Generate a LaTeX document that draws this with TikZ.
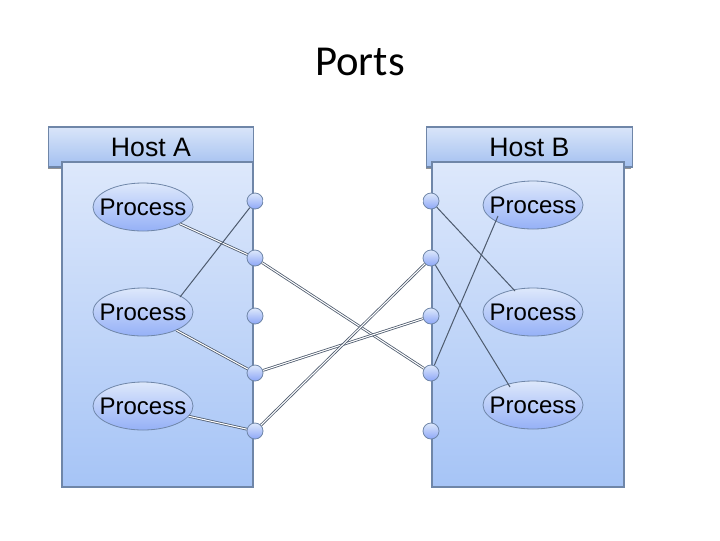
\documentclass[tikz,border=0pt]{standalone}
\usepackage{fontspec}
\setmainfont{Liberation Sans}
\newfontfamily\titlefont{Carlito}
\usetikzlibrary{calc}
\usetikzlibrary{shapes.geometric}
\usetikzlibrary{shadows}

\definecolor{hostline}{HTML}{6F86A8}
\definecolor{hosttop}{HTML}{DDE8FB}
\definecolor{hostbot}{HTML}{A6C4F6}
\definecolor{headtop}{HTML}{D9E5F9}
\definecolor{headbot}{HTML}{A3C0F0}
\definecolor{linkcol}{HTML}{4E5B6E}

\tikzset{
hostbody/.style={draw=hostline,line width=0.8pt,top color=hosttop,bottom color=hostbot},
hosthead/.style={draw=hostline,line width=0.8pt,top color=headtop,bottom color=headbot,
  minimum width=154pt,minimum height=30pt,inner sep=0pt,
  font=\fontsize{20}{24}\selectfont,
  drop shadow={shadow xshift=-0.6pt,shadow yshift=-1.2pt,fill=black!60,opacity=0.7}},
proc/.style={ellipse,draw=hostline,line width=0.6pt,top color=hosttop,bottom color=hostbot!90!blue,
  minimum width=75pt,minimum height=36pt,inner xsep=-6pt,inner ysep=0pt,
  font=\fontsize{18}{22}\selectfont},
port/.style={circle,draw=hostline,line width=0.6pt,top color=hosttop,bottom color=hostbot!85!blue,
  minimum size=12pt,inner sep=0pt},
link/.style={draw=linkcol,line width=0.6pt,double=white,double distance=0.8pt},
wire/.style={draw=linkcol,line width=0.75pt}
}

\begin{document}
\begin{tikzpicture}[x=0.75pt,y=-0.75pt]
\useasboundingbox[fill=white](0,0)rectangle(720,540);
\node[font=\titlefont\fontsize{32}{38}\selectfont](title)at(360,62){Ports};

% hosts
\node[hosthead](HA)at(151,147){Host A};
\filldraw[hostbody](62,162)rectangle(253,487);
\node[hosthead](HB)at(529.5,147){Host B};
\filldraw[hostbody](432,162)rectangle(624,487);

% ports
\foreach \i/\y in {1/201,2/258,3/316,4/373,5/431}{
\node[port](A\i)at(255,\y){};
\node[port](B\i)at(431,\y){};
}

% processes
\node[proc](PA1)at(143,207){Process};
\node[proc](PA2)at(143,312){Process};
\node[proc](PA3)at(143,406){Process};
\node[proc](PB1)at(533,205){Process};
\node[proc](PB2)at(533,312){Process};
\node[proc](PB3)at(533,405){Process};

% links between hosts
\draw[link](A1)--(B1);
\draw[link](A2)--(B4);
\draw[link](A4)--(B3);
\draw[link](A5)--(B2);

% process to port
\draw[link](PA1)--(A2);
\draw[link](PA2)--(A4);
\draw[link](PA3)--(A5);
\draw[wire](A1)--($(PA2)+(37,-15)$);
\draw[wire](B4)--($(PB1)+(-35,11)$);
\draw[wire](B1)--($(PB2)+(-18,-21)$);
\draw[wire](B2)--($(PB3)+(-23,-18)$);
\end{tikzpicture}
\end{document}
